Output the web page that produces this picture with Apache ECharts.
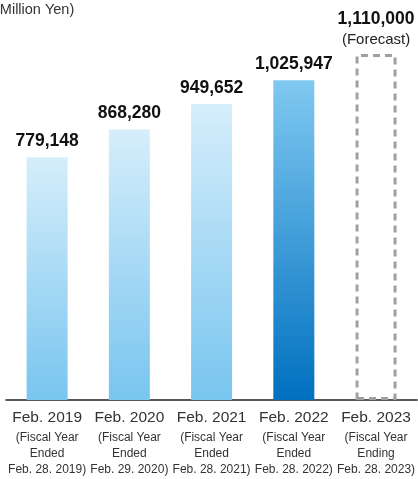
<!DOCTYPE html>
<html>
<head>
<meta charset="utf-8">
<style>
  html, body { margin: 0; padding: 0; background: #fff; }
  #chart { width: 418px; height: 479px; }
</style>
<script src="https://cdn.jsdelivr.net/npm/echarts@6/dist/echarts.min.js"></script>
</head>
<body>
<div id="chart"></div>
<script>
// Net sales by fiscal year (million yen); last year is a forecast
const periods = ['Feb. 2019', 'Feb. 2020', 'Feb. 2021', 'Feb. 2022', 'Feb. 2023'];
const periodStatus = ['Ended', 'Ended', 'Ended', 'Ended', 'Ending'];
const periodEndDates = ['Feb. 28. 2019)', 'Feb. 29. 2020)', 'Feb. 28. 2021)', 'Feb. 28. 2022)', 'Feb. 28. 2023)'];
const netSales = [779148, 868280, 949652, 1025947, 1110000];
const forecastIndex = 4;
const highlightIndex = 3;

const SANS = "'Liberation Sans', Arial, Helvetica, sans-serif";

function grad(top, bottom) {
  return new echarts.graphic.LinearGradient(0, 0, 0, 1, [
    { offset: 0, color: top },
    { offset: 1, color: bottom }
  ]);
}

const fmt = v => v.toLocaleString('en-US');

const barData = netSales.map((v, i) => {
  if (i === forecastIndex) {
    return {
      value: v,
      itemStyle: {
        color: 'rgba(255,255,255,0)',
        borderColor: '#a0a0a0',
        borderWidth: 3,
        borderType: [7, 5]
      },
      label: {
        formatter: '{v|' + fmt(v) + '}\n{f|(Forecast)}',
        distance: 4
      }
    };
  }
  return {
    value: v,
    itemStyle: {
      color: i === highlightIndex ? grad('#80c9f1', '#0070bf') : grad('#d6eefb', '#78c5ef')
    }
  };
});

const chart = echarts.init(document.getElementById('chart'), null, { renderer: 'canvas' });
chart.setOption({
  animation: false,
  backgroundColor: '#ffffff',
  graphic: [{
    type: 'text',
    left: -5,
    top: 2,
    style: {
      text: '(Million Yen)',
      font: 'normal 14.5px ' + SANS,
      fill: '#333333'
    }
  }],
  grid: { left: 6, right: 0, top: 26, bottom: 79 },
  xAxis: {
    type: 'category',
    data: periods,
    axisLine: { lineStyle: { color: '#222222', width: 1.5 } },
    axisTick: { show: false },
    axisLabel: {
      margin: 6,
      interval: 0,
      formatter: (val, idx) =>
        '{m|' + val + '}\n{s|(Fiscal Year}\n{s|' + periodStatus[idx] + '}\n{s|' + periodEndDates[idx] + '}',
      rich: {
        m: { fontFamily: SANS, fontSize: 15.5, lineHeight: 24, color: '#333333' },
        s: { fontFamily: SANS, fontSize: 12, lineHeight: 16, color: '#333333' }
      }
    }
  },
  yAxis: {
    type: 'value',
    min: 0,
    max: 1200000,
    show: false,
    splitLine: { show: false }
  },
  series: [{
    type: 'bar',
    data: barData,
    barWidth: 41,
    label: {
      show: true,
      position: 'top',
      distance: 5,
      formatter: p => '{v|' + fmt(p.value) + '}',
      rich: {
        v: { fontFamily: SANS, fontSize: 17.5, fontWeight: 'bold', color: '#111111', lineHeight: 22 },
        f: { fontFamily: SANS, fontSize: 15, color: '#222222', lineHeight: 20 }
      }
    }
  }]
});
</script>
</body>
</html>
